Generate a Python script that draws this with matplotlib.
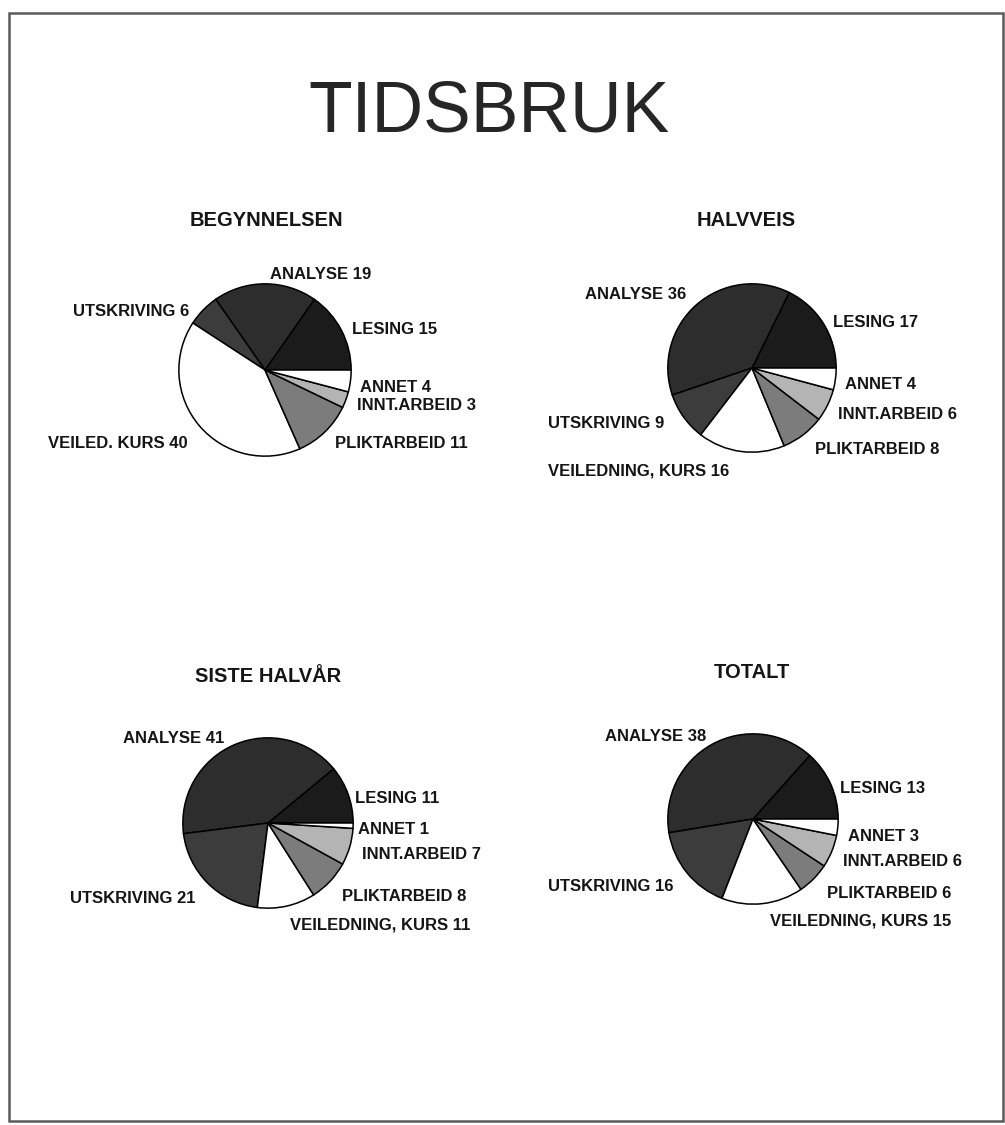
import matplotlib
matplotlib.use("Agg")
import matplotlib.pyplot as plt
from matplotlib.patches import Rectangle

# ---------------- data ----------------
title = "TIDSBRUK"
panel_titles = ["BEGYNNELSEN", "HALVVEIS", "SISTE HALVÅR", "TOTALT"]
categories = ["LESING", "ANALYSE", "UTSKRIVING", "VEILEDNING, KURS",
              "PLIKTARBEID", "INNT.ARBEID", "ANNET"]
categories_first = ["LESING", "ANALYSE", "UTSKRIVING", "VEILED. KURS",
                    "PLIKTARBEID", "INNT.ARBEID", "ANNET"]
begynnelsen = [15, 19, 6, 40, 11, 3, 4]
halvveis = [17, 36, 9, 16, 8, 6, 4]
siste_halvaar = [11, 41, 21, 11, 8, 7, 1]
totalt = [13, 38, 16, 15, 6, 6, 3]

# ---------------- style / layout ----------------
W, H = 1005, 1125
FONT = ["Liberation Sans", "DejaVu Sans"]
plt.rcParams["font.family"] = FONT
slice_colors = ["#1b1b1b", "#2d2d2d", "#3c3c3c", "#ffffff",
                "#7c7c7c", "#b4b4b4", "#ffffff"]
text_color = "#151515"

# pie centres / radii in pixels
pie_geom = [(265, 370, 87), (752, 368, 85), (268, 823, 86), (753, 819, 86)]
title_pos = [(266, 219), (746, 219), (268, 675), (752, 670)]
# label anchor points (left edge, vertical centre) per pie, per category order
label_pos = [
    [(352, 328), (270, 273), (73, 310), (48, 442), (335, 442), (357, 404), (360, 386)],
    [(833, 321), (585, 293), (548, 422), (548, 470), (815, 448), (838, 413), (845, 383)],
    [(355, 797), (123, 737), (70, 897), (290, 923), (342, 895), (362, 853), (358, 828)],
    [(840, 787), (605, 735), (548, 885), (770, 920), (827, 892), (843, 860), (848, 835)],
]

series = [begynnelsen, halvveis, siste_halvaar, totalt]
names = [categories_first, categories, categories, categories]

fig = plt.figure(figsize=(W / 100, H / 100), dpi=100)
fig.patch.set_facecolor("white")

# outer frame
fig.add_artist(Rectangle((8.5 / W, 1 - 1121 / H), (1003 - 8.5) / W, (1121 - 12.5) / H,
                         transform=fig.transFigure, fill=False,
                         edgecolor="#5a5a5a", linewidth=1.8))

fig.text(489 / W, 1 - 113 / H, title, ha="center", va="center",
         fontsize=51.5, color="#262626", fontweight="normal")

for i, (vals, labs) in enumerate(zip(series, names)):
    cx, cy, r = pie_geom[i]
    ax = fig.add_axes([(cx - r) / W, 1 - (cy + r) / H, 2 * r / W, 2 * r / H])
    ax.pie(vals, colors=slice_colors, startangle=0, counterclock=True,
           radius=1.0, frame=False,
           wedgeprops=dict(edgecolor="black", linewidth=1.1))
    ax.set_xlim(-1.01, 1.01)
    ax.set_ylim(-1.01, 1.01)
    ax.set_aspect("equal")
    ax.axis("off")

    tx, ty = title_pos[i]
    fig.text(tx / W, 1 - (ty + 7.5) / H, panel_titles[i], ha="center",
             va="baseline", fontsize=14.5, fontweight="bold", color=text_color)

    for (lx, ly), name, v in zip(label_pos[i], labs, vals):
        fig.text(lx / W, 1 - (ly + 6) / H, f"{name} {v}", ha="left",
                 va="baseline", fontsize=12, fontweight="bold",
                 color=text_color)

fig.savefig("out.png", dpi=100, facecolor="white")
